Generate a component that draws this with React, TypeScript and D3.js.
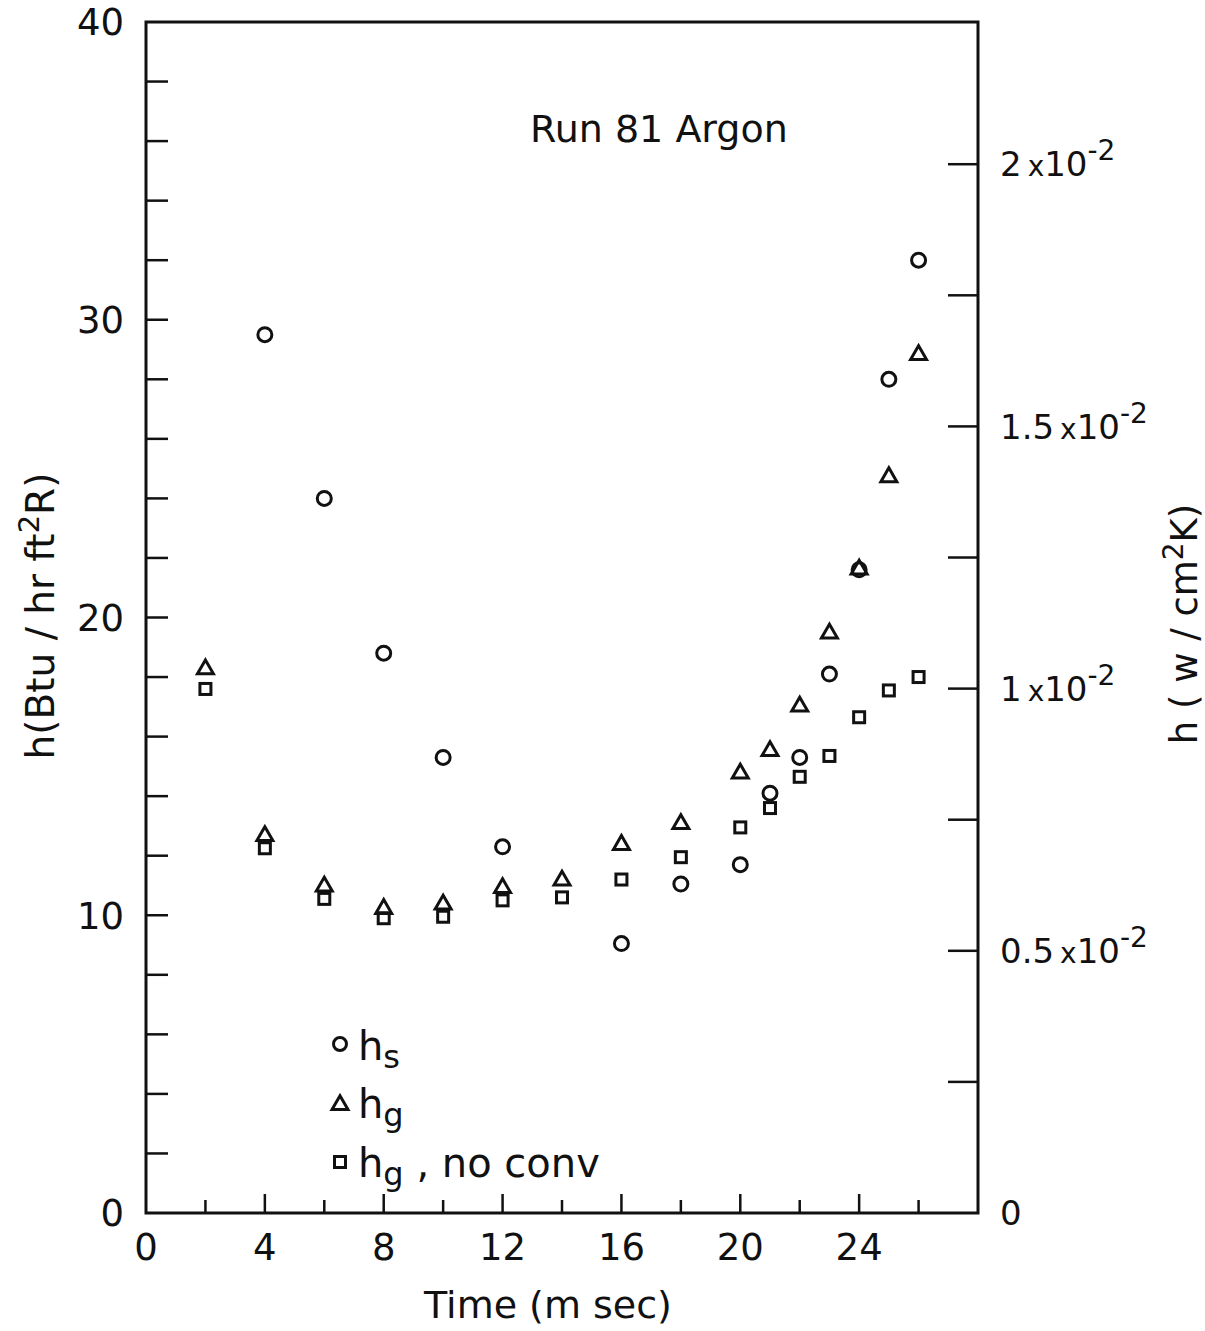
import * as d3 from 'd3';

// time (m sec)
const times = [2, 4, 6, 8, 10, 12, 14, 16, 18, 20, 21, 22, 23, 24, 25, 26];
// h_s (circles) — no point at 2 and 14 ms
const hsTimes = [4, 6, 8, 10, 12, 16, 18, 20, 21, 22, 23, 24, 25, 26];
const hsValues = [29.5, 24.0, 18.8, 15.3, 12.3, 9.05, 11.05, 11.7, 14.1, 15.3, 18.1, 21.6, 28.0, 32.0];
// h_g (triangles)
const hgValues = [18.3, 12.7, 11.0, 10.25, 10.4, 10.95, 11.2, 12.4, 13.1, 14.8, 15.55, 17.05, 19.5, 21.65, 24.75, 28.85];
// h_g, no conv (squares)
const hgNoConvValues = [17.6, 12.25, 10.55, 9.9, 9.95, 10.5, 10.6, 11.2, 11.95, 12.95, 13.6, 14.65, 15.35, 16.65, 17.55, 18.0];

const xTickLabels = [0, 4, 8, 12, 16, 20, 24];
const yTickLabels = [0, 10, 20, 30, 40];
const rightTicks = [0, 0.005, 0.01, 0.015, 0.02];
const rightTickText = ['0', '0.5', '1', '1.5', '2'];

const BTU_TO_WCM2K = 5.678e-4;
const FONT = "'DejaVu Sans', sans-serif";

export default function App() {
  const W = 1205;
  const H = 1331;
  const left = 146;
  const right = 978;
  const top = 22;
  const bottom = 1213;

  const x = d3.scaleLinear().domain([0, 28]).range([left, right]);
  const y = d3.scaleLinear().domain([0, 40]).range([bottom, top]);
  const yR = d3.scaleLinear().domain([0, 40 * BTU_TO_WCM2K]).range([bottom, top]);

  const triangle = d3.symbol().type(d3.symbolTriangle).size(110)();

  const minorX = d3.range(2, 28, 2);
  const minorY = d3.range(2, 40, 2);
  const minorR = d3.range(1, 9).map((i) => i * 0.0025);

  const stroke = '#111';
  const mw = 3;

  return (
    <svg
      width={W}
      height={H}
      style={{ position: 'absolute', left: 0, top: 0, background: '#fff' }}
      fontFamily={FONT}
    >
      {/* frame */}
      <path
        d={`M${left},${top}H${right}V${bottom}H${left}Z`}
        fill="none"
        stroke={stroke}
        strokeWidth={3}
      />

      {/* left ticks */}
      {minorY.map((d) => (
        <line key={'ly' + d} x1={left} x2={left + 22} y1={y(d)} y2={y(d)} stroke={stroke} strokeWidth={2.5} />
      ))}
      {yTickLabels.map((d) => (
        <text key={'lt' + d} x={left - 22} y={y(d)} dy="0.36em" textAnchor="end" fontSize={37} fill={stroke}>
          {d}
        </text>
      ))}

      {/* right ticks */}
      {minorR.map((d) => (
        <line key={'ry' + d} x1={right - 30} x2={right} y1={yR(d)} y2={yR(d)} stroke={stroke} strokeWidth={2.5} />
      ))}
      {rightTicks.map((d, i) => (
        <text key={'rt' + d} x={right + 22} y={yR(d)} dy="0.36em" fontSize={34} fill={stroke}>
          {rightTickText[i]}
          {d > 0 && (
            <>
              <tspan dx="6" fontSize={28}>x</tspan>
              <tspan>10</tspan>
              <tspan dy="-16" fontSize={28}>-2</tspan>
            </>
          )}
        </text>
      ))}

      {/* bottom ticks */}
      {minorX.map((d) => (
        <line
          key={'bx' + d}
          x1={x(d)}
          x2={x(d)}
          y1={bottom}
          y2={bottom - (d % 4 === 0 ? 19 : 13)}
          stroke={stroke}
          strokeWidth={2.5}
        />
      ))}
      {xTickLabels.map((d) => (
        <text key={'bt' + d} x={x(d)} y={bottom + 47} textAnchor="middle" fontSize={37} fill={stroke}>
          {d}
        </text>
      ))}

      {/* axis titles */}
      <text x={548} y={1318} textAnchor="middle" fontSize={38} fill={stroke}>
        Time (m sec)
      </text>
      <text
        transform={`translate(54,${616}) rotate(-90)`}
        textAnchor="middle"
        fontSize={39}
        fill={stroke}
      >
        h(Btu / hr ft<tspan dy="-15" fontSize={29}>2</tspan>
        <tspan dy="15">R)</tspan>
      </text>
      <text
        transform={`translate(1197,${624}) rotate(-90)`}
        textAnchor="middle"
        fontSize={37}
        fill={stroke}
      >
        h ( w / cm<tspan dy="-14" fontSize={28}>2</tspan>
        <tspan dy="14">K)</tspan>
      </text>

      {/* annotation */}
      <text x={530} y={142} fontSize={38} fill={stroke}>
        Run 81  Argon
      </text>

      {/* data: h_g, no conv */}
      {times.map((t, i) => (
        <rect
          key={'sq' + i}
          x={x(t) - 5.5}
          y={y(hgNoConvValues[i]) - 5.5}
          width={11}
          height={11}
          fill="none"
          stroke={stroke}
          strokeWidth={mw}
        />
      ))}
      {/* data: h_g */}
      {times.map((t, i) => (
        <path
          key={'tr' + i}
          d={triangle}
          transform={`translate(${x(t)},${y(hgValues[i]) + 1})`}
          fill="none"
          stroke={stroke}
          strokeWidth={mw}
        />
      ))}
      {/* data: h_s */}
      {hsTimes.map((t, i) => (
        <circle key={'ci' + i} cx={x(t)} cy={y(hsValues[i])} r={7} fill="none" stroke={stroke} strokeWidth={mw} />
      ))}

      {/* legend */}
      <circle cx={340} cy={1044} r={6.5} fill="none" stroke={stroke} strokeWidth={mw} />
      <text x={358} y={1060} fontSize={40} fill={stroke}>
        h<tspan dy="8" fontSize={32}>s</tspan>
      </text>
      <path d={triangle} transform="translate(340,1105)" fill="none" stroke={stroke} strokeWidth={mw} />
      <text x={358} y={1118} fontSize={40} fill={stroke}>
        h<tspan dy="8" fontSize={32}>g</tspan>
      </text>
      <rect x={334.5} y={1156.5} width={11} height={11} fill="none" stroke={stroke} strokeWidth={mw} />
      <text x={358} y={1177} fontSize={40} fill={stroke}>
        h<tspan dy="8" fontSize={32}>g</tspan>
        <tspan dy="-8"> , no conv</tspan>
      </text>
    </svg>
  );
}
